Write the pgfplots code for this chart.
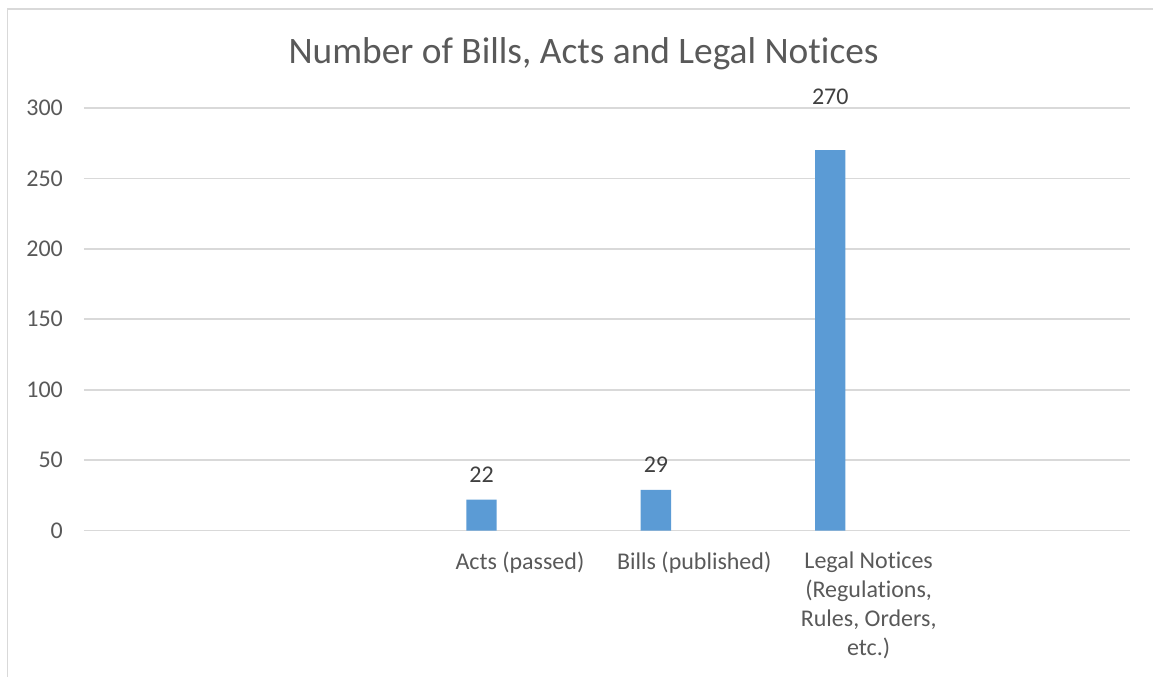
\documentclass[border=0pt]{standalone}
\usepackage{pgfplots}
\pgfplotsset{compat=1.18}
\usepackage{fontspec}
\setmainfont{Carlito}[Ligatures={NoCommon}]
\definecolor{barblue}{HTML}{5B9BD5}
\definecolor{gridgray}{HTML}{D9D9D9}
\definecolor{ticktext}{HTML}{595959}
\definecolor{labeltext}{HTML}{404040}
\begin{document}
\begin{tikzpicture}
\path (0,0) rectangle (577pt,338.5pt);
\draw[gridgray, line width=0.8pt] (3.7pt,0) -- (3.7pt,334pt) -- (577pt,334pt);
\node[text=ticktext, font=\fontsize{18.7}{22}\selectfont] at (292pt,311.5pt) {Number of Bills, Acts and Legal Notices};
\begin{axis}[
  at={(42pt,73pt)}, anchor=south west,
  scale only axis, width=523.5pt, height=211.5pt,
  xmin=-0.5, xmax=5.5, ymin=0, ymax=300,
  ytick={0,50,...,300},
  xtick={2,3,4},
  xticklabels={Acts (passed),Bills (published),{Legal Notices\\(Regulations,\\Rules, Orders,\\etc.)}},
  axis line style={draw=none},
  major tick length=0pt,
  ymajorgrids, grid style={gridgray, line width=0.8pt},
  tick label style={text=ticktext, font=\fontsize{12}{14.5}\selectfont},
  yticklabel style={xshift=-7pt},
  xticklabel style={align=center, anchor=north, yshift=-7pt},
  /pgf/number format/assume math mode=true,
  clip=false,
]
\addplot[ybar, bar width=0.174, fill=barblue, draw=none,
  visualization depends on={\thisrow{off} \as \off},
  nodes near coords,
  nodes near coords style={text=labeltext, font=\fontsize{12}{14}\selectfont, anchor=south, yshift=\off pt},
  point meta=explicit symbolic]
  table[x=x, y=y, meta=lab] {
  x     y    off  lab
  1.78  22   5    22
  2.78  29   5    29
  3.78  270  19   270
  };
\end{axis}
\end{tikzpicture}
\end{document}
